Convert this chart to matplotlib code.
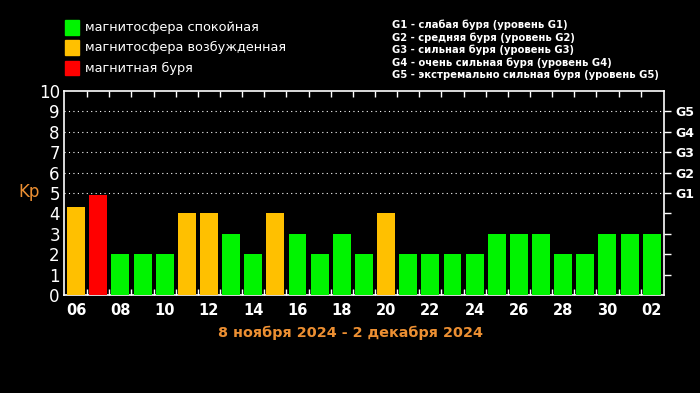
import matplotlib
matplotlib.use('Agg')
import matplotlib.pyplot as plt
from matplotlib.patches import Rectangle

# Kp index, 6 Nov - 2 Dec 2024
days = ['06', '07', '08', '09', '10', '11', '12', '13', '14', '15', '16', '17', '18', '19',
        '20', '21', '22', '23', '24', '25', '26', '27', '28', '29', '30', '01', '02']
kp = [4.3, 4.9, 2, 2, 2, 4, 4, 3, 2, 4, 3, 2, 3, 2,
      4, 2, 2, 2, 2, 3, 3, 3, 2, 2, 3, 3, 3]
# 0 = quiet, 1 = active, 2 = storm
state = [1, 2, 0, 0, 0, 1, 1, 0, 0, 1, 0, 0, 0, 0,
         1, 0, 0, 0, 0, 0, 0, 0, 0, 0, 0, 0, 0]

legend_labels = ['магнитосфера спокойная', 'магнитосфера возбужденная', 'магнитная буря']
g_labels = ['G1', 'G2', 'G3', 'G4', 'G5']
g_notes = ['G1 - слабая буря (уровень G1)',
           'G2 - средняя буря (уровень G2)',
           'G3 - сильная буря (уровень G3)',
           'G4 - очень сильная буря (уровень G4)',
           'G5 - экстремально сильная буря (уровень G5)']
period = '8 ноября 2024 - 2 декабря 2024'

colors = ['#00f400', '#ffc000', '#ff0000']
orange = '#ec8f32'

plt.rcParams['font.family'] = ['DejaVu Sans']

fig = plt.figure(figsize=(7, 3.93), dpi=100, facecolor='black')
ax = fig.add_axes([0.0914, 0.2494, 0.857, 0.519], facecolor='black')

x = list(range(len(days)))
ax.bar(x, kp, width=0.81, color=[colors[s] for s in state], zorder=3)

ax.set_xlim(-0.55, len(days) - 0.45)
ax.set_ylim(0, 10)

for v in range(5, 10):
    ax.axhline(v, color='white', linestyle=(0, (1, 3)), linewidth=0.8, zorder=1)

for s in ax.spines.values():
    s.set_color('white')
    s.set_linewidth(1.2)

# left labels
ax.set_yticks(range(0, 11))
ax.set_yticklabels([str(v) for v in range(0, 11)], color='white', fontsize=12)
ax.tick_params(axis='y', which='major', left=True, length=0, pad=3)

# day ticks between bars, labels every 2 days
ax.set_xticks([i + 0.5 for i in range(len(days) - 1)], minor=True)
ax.tick_params(axis='x', which='minor', bottom=True, top=True, direction='in',
               length=4, color='white', width=1)
ax.set_xticks(x[::2])
ax.set_xticklabels(days[::2], color='white', fontsize=10.5, fontweight='bold')
ax.tick_params(axis='x', which='major', length=0, pad=6)

# right G scale
ax2 = ax.twinx()
ax2.set_ylim(0, 10)
ax2.set_yticks(range(1, 10))
ax2.set_yticklabels(['', '', '', ''] + g_labels, color='white', fontsize=9,
                    fontweight='bold')
ax2.tick_params(axis='y', direction='out', length=5, color='white', width=1, pad=3)
for s in ax2.spines.values():
    s.set_visible(False)

fig.text(0.026, 0.512, 'Kp', color=orange, fontsize=12, va='center', ha='left')
fig.text(0.5, 0.153, period, color=orange, fontsize=10.4, fontweight='bold',
         ha='center', va='center')

# legend squares
for i, (lab, c) in enumerate(zip(legend_labels, colors)):
    yc = 0.931 - i * 0.052
    fig.patches.append(Rectangle((0.093, yc - 0.019), 0.02, 0.038, color=c,
                                 transform=fig.transFigure, figure=fig))
    fig.text(0.121, yc, lab, color='white', fontsize=9.3, va='center', ha='left')

for i, t in enumerate(g_notes):
    fig.text(0.56, 0.936 - i * 0.0315, t, color='white', fontsize=7.2,
             fontweight='bold', va='center', ha='left')

fig.savefig('out.png', dpi=100, facecolor='black')
